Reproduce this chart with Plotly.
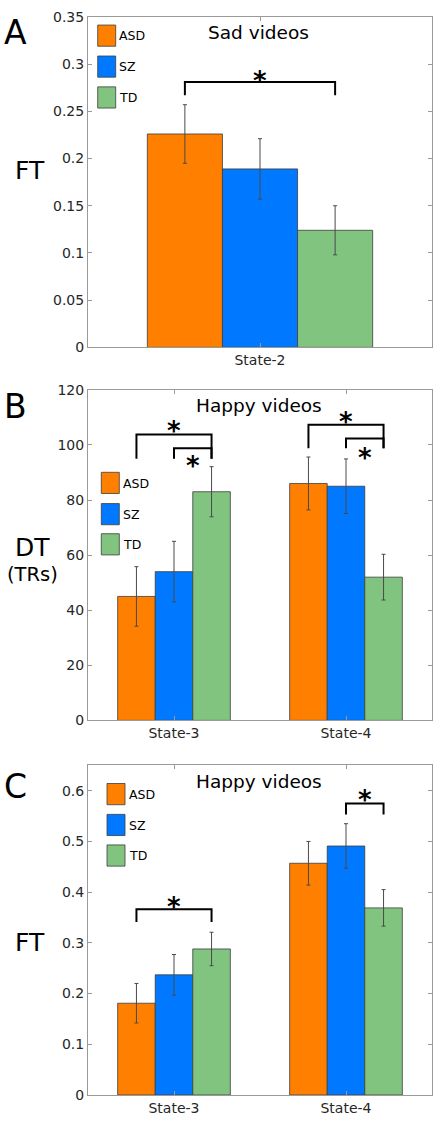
import plotly.graph_objects as go

W, H = 436, 1125

# ---------------- data ----------------
groups = ["ASD", "SZ", "TD"]
colors = ["#FF7F00", "#0078FF", "#80C480"]

# Panel A: FT, sad videos
a_cats = ["State-2"]
a_asd = [0.226]
a_asd_err = [0.031]
a_sz = [0.189]
a_sz_err = [0.032]
a_td = [0.124]
a_td_err = [0.026]

# Panel B: DT (TRs), happy videos
b_cats = ["State-3", "State-4"]
b_asd = [45.0, 86.0]
b_asd_err = [10.8, 9.6]
b_sz = [54.0, 85.0]
b_sz_err = [11.0, 9.9]
b_td = [83.0, 52.0]
b_td_err = [9.1, 8.3]

# Panel C: FT, happy videos
c_cats = ["State-3", "State-4"]
c_asd = [0.181, 0.457]
c_asd_err = [0.039, 0.043]
c_sz = [0.237, 0.491]
c_sz_err = [0.040, 0.044]
c_td = [0.288, 0.369]
c_td_err = [0.033, 0.036]

# significance brackets: (category, group i, group j, bracket level, leg end, star level)
a_sig = [(0, 0, 2, 0.281, 0.267, 0.289)]
b_sig = [(0, 0, 2, 103.8, 95.0, 107.7), (0, 1, 2, 98.8, 95.0, 94.8),
         (1, 0, 2, 107.3, 98.8, 111.0), (1, 1, 2, 102.3, 98.8, 97.9)]
c_sig = [(0, 0, 2, 0.3665, 0.341, 0.385), (1, 1, 2, 0.575, 0.553, 0.595)]

# ---------------- layout helpers ----------------
FONT = "DejaVu Sans"
AX = "#9a9a9a"
BARGAP = 0.345
BW = (1 - BARGAP) / 3


def px(x):
    return x / W


def py(y):
    return 1 - y / H


def off(i):
    return (i - 1) * BW


def note(x, y, text, size, xanchor="center", yshift=0, **kw):
    return dict(x=x, y=y, text=text, showarrow=False, xanchor=xanchor,
                yanchor="middle", yshift=yshift,
                font=dict(family=FONT, size=size, color="black"), **kw)


panels = [
    dict(s="", cats=a_cats, vals=[a_asd, a_sz, a_td], errs=[a_asd_err, a_sz_err, a_td_err],
         sig=a_sig, yr=[0, 0.35], dt=0.05, top=9.0, bot=344.3,
         title="Sad videos", tx=258.5, ty=24.5, letter="A", ly=22.5,
         ylab=[("FT", 29.5, 164, 25)],
         leg_x=97.7, leg_y=[17.3, 48.7, 80.0]),
    dict(s="2", cats=b_cats, vals=[b_asd, b_sz, b_td], errs=[b_asd_err, b_sz_err, b_td_err],
         sig=b_sig, yr=[0, 120], dt=20, top=387.3, bot=722.7,
         title="Happy videos", tx=259, ty=403.5, letter="B", ly=402,
         ylab=[("DT", 32, 546.5, 25), ("(TRs)", 32, 574, 19.5)],
         leg_x=101.3, leg_y=[471.0, 502.7, 533.3]),
    dict(s="3", cats=c_cats, vals=[c_asd, c_sz, c_td], errs=[c_asd_err, c_sz_err, c_td_err],
         sig=c_sig, yr=[0, 0.65], dt=0.1, top=768.3, bot=1102.7,
         title="Happy videos", tx=259, ty=784.5, letter="C", ly=788,
         ylab=[("FT", 29.5, 946.7, 25)],
         leg_x=107.0, leg_y=[786.7, 818.0, 849.0]),
]

fig = go.Figure()
annotations = []
shapes = []
layout_axes = {}

for p in panels:
    s = p["s"]
    n = len(p["cats"])
    xs = list(range(n))
    for i, g in enumerate(groups):
        fig.add_trace(go.Bar(
            x=xs, y=p["vals"][i], name=g, width=BW, offset=-1.5 * BW + i * BW,
            marker=dict(color=colors[i], line=dict(color="#3c3c3c", width=0.8)),
            error_y=dict(type="data", array=p["errs"][i], color="#4a4a4a",
                         thickness=1, width=2),
            xaxis="x" + s, yaxis="y" + s, showlegend=False, hoverinfo="skip"))
    for (c, i, j, top, leg, star) in p["sig"]:
        xi, xj = c + off(i), c + off(j)
        fig.add_trace(go.Scatter(
            x=[xi, xi, xj, xj], y=[leg, top, top, leg], mode="lines",
            line=dict(color="black", width=2), xaxis="x" + s, yaxis="y" + s,
            showlegend=False, hoverinfo="skip"))
        annotations.append(note((xi + xj) / 2, star, "<b>*</b>", 26, yshift=-7,
                                xref="x" + s, yref="y" + s))

    dom_y = [py(p["bot"]), py(p["top"])]
    axis_common = dict(showline=True, linecolor=AX, linewidth=1, mirror="ticks",
                       ticks="inside", ticklen=4, tickcolor=AX, showgrid=False,
                       zeroline=False, fixedrange=True,
                       tickfont=dict(family=FONT, size=14, color="#262626"))
    layout_axes["xaxis" + s] = dict(
        domain=[px(88), px(432)], range=[-0.5, n - 0.5], tickvals=xs,
        ticktext=p["cats"], anchor="y" + s, **axis_common)
    layout_axes["yaxis" + s] = dict(
        domain=dom_y, range=p["yr"], dtick=p["dt"], tick0=0, anchor="x" + s,
        **axis_common)

    annotations.append(note(px(p["tx"]), py(p["ty"]), p["title"], 18.5,
                            xref="paper", yref="paper"))
    annotations.append(note(px(15), py(p["ly"]), p["letter"], 33, yshift=-2,
                            xref="paper", yref="paper"))
    for (t, x, y, fs) in p["ylab"]:
        annotations.append(note(px(x), py(y), t, fs, yshift=-1,
                                xref="paper", yref="paper"))
    for i, g in enumerate(groups):
        y0 = p["leg_y"][i]
        shapes.append(dict(type="rect", xref="paper", yref="paper",
                           x0=px(p["leg_x"]), x1=px(p["leg_x"] + 18),
                           y0=py(y0), y1=py(y0 + 21.5),
                           fillcolor=colors[i], line=dict(color="#3c3c3c", width=0.8)))
        annotations.append(note(px(p["leg_x"] + 19.5), py(y0 + 11), g, 12.5,
                                xanchor="left", xref="paper", yref="paper"))

fig.update_layout(
    width=W, height=H, autosize=False,
    margin=dict(l=0, r=0, t=0, b=0),
    paper_bgcolor="white", plot_bgcolor="white",
    barmode="overlay", annotations=annotations, shapes=shapes,
    **layout_axes)

fig.write_html("out.html", config={"displayModeBar": False},
               post_script="document.body.style.margin='0';"
                           "document.body.style.overflow='hidden';")
